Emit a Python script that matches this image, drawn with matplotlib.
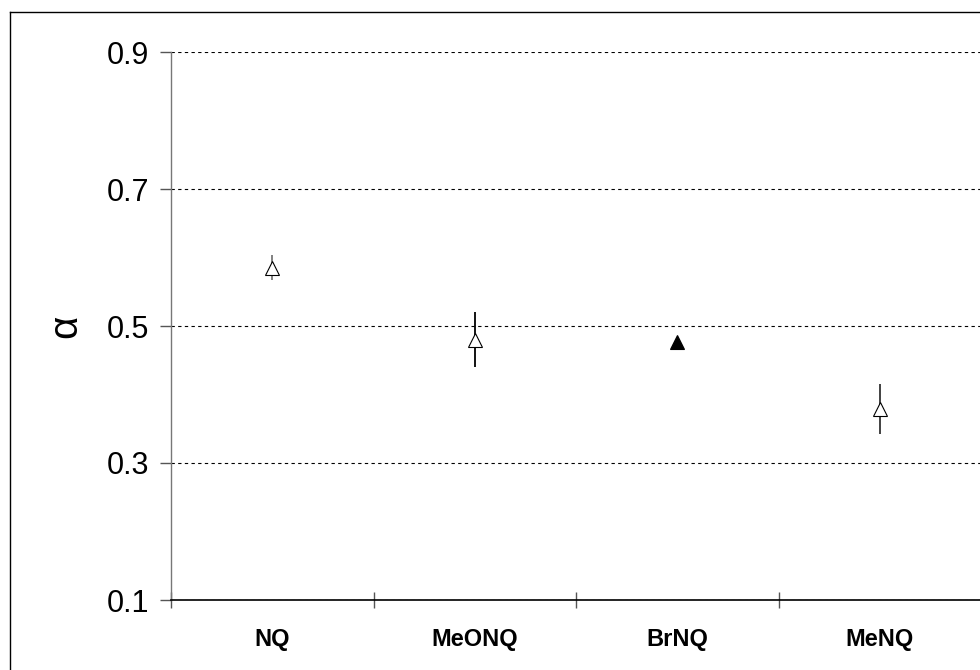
import matplotlib.pyplot as plt
from matplotlib.lines import Line2D

plt.rcParams['font.family'] = ['Liberation Sans', 'DejaVu Sans']

# alpha values for each quinone, with error bars
compounds = ['NQ', 'MeONQ', 'BrNQ', 'MeNQ']
alpha = [0.585, 0.480, 0.477, 0.379]
alpha_err = [0.018, 0.040, 0.0, 0.037]
filled = [False, False, True, False]
bar_colors = ['#777777', 'black', 'black', '#333333']

fig = plt.figure(figsize=(9.8, 6.7), dpi=100)
ax = fig.add_axes([171 / 980, 70 / 670, 810 / 980, 548 / 670])

xpos = [i + 0.5 for i in range(len(compounds))]
for x, y, e, f, c in zip(xpos, alpha, alpha_err, filled, bar_colors):
    if e > 0:
        ax.errorbar(x, y, yerr=e, fmt='none', ecolor=c, elinewidth=1.3,
                    capsize=0, zorder=3)
    ax.plot(x, y, marker='^', ms=9.5, mec='black', mew=0.8,
            mfc='black' if f else 'white', ls='none', zorder=4)

ax.set_xlim(0, 4)
ax.set_ylim(0.1, 0.9)
ax.set_yticks([0.1, 0.3, 0.5, 0.7, 0.9])
ax.set_yticklabels(['0.1', '0.3', '0.5', '0.7', '0.9'])
ax.yaxis.grid(True, color='black', linestyle=(0, (3, 3)), linewidth=0.8)
ax.set_axisbelow(True)

# boundaries get tick marks, category names sit between them
ax.set_xticks([0, 1, 2, 3, 4])
ax.set_xticklabels([])
ax.set_xticks(xpos, minor=True)
ax.set_xticklabels(compounds, minor=True, fontsize=17, fontweight='bold')
ax.tick_params(axis='x', which='major', direction='inout', length=12,
               width=1, color='#555555')
ax.tick_params(axis='x', which='minor', length=0, pad=20)
ax.tick_params(axis='y', direction='out', length=8, width=1, color='#555555',
               labelsize=22, pad=8)

for side in ['top', 'right']:
    ax.spines[side].set_visible(False)
ax.spines['left'].set_color('#777777')
ax.spines['bottom'].set_color('black')
ax.spines['left'].set_linewidth(1)
ax.spines['bottom'].set_linewidth(1.2)

ax.set_ylabel('α', fontsize=29, rotation=90, labelpad=16)

# outer chart border
left, top = 10 / 980, 1 - 12 / 670
fig.add_artist(Line2D([left, left], [0, top], color='black', lw=1))
fig.add_artist(Line2D([left, 1], [top, top], color='black', lw=1))

fig.savefig('out.png', dpi=100)
